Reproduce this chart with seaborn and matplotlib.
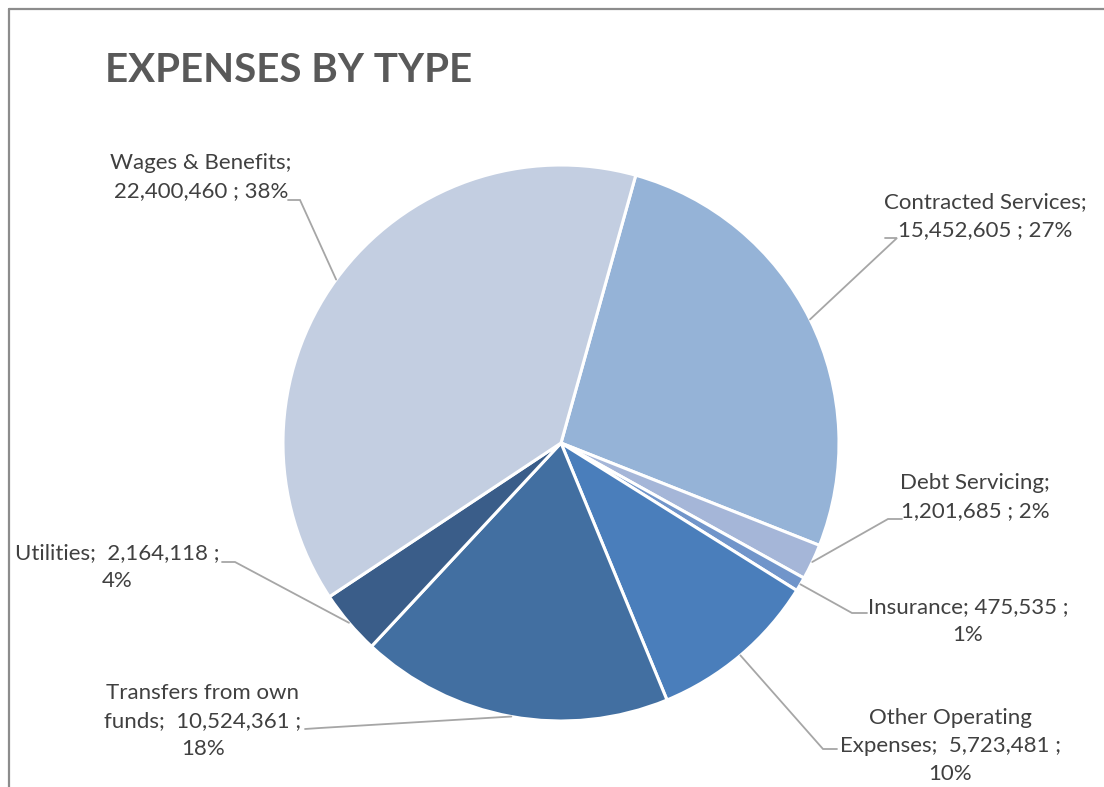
import numpy as np
import matplotlib
matplotlib.use("Agg")
import matplotlib.pyplot as plt
from matplotlib.lines import Line2D
import seaborn as sns

# Expense categories, clockwise from the top of the pie
categories = ["Contracted Services", "Debt Servicing", "Insurance",
              "Other Operating Expenses", "Transfers from own funds",
              "Utilities", "Wages & Benefits"]
amounts = [15452605, 1201685, 475535, 5723481, 10524361, 2164118, 22400460]
percent_labels = ["27%", "2%", "1%", "10%", "18%", "4%", "38%"]
label_texts = [
    "Contracted Services;\n15,452,605 ; 27%",
    "Debt Servicing;\n1,201,685 ; 2%",
    "Insurance; 475,535 ;\n1%",
    "Other Operating\nExpenses;  5,723,481 ;\n10%",
    "Transfers from own\nfunds;  10,524,361 ;\n18%",
    "Utilities;  2,164,118 ;\n4%",
    "Wages & Benefits;\n22,400,460 ; 38%",
]
slice_colors = ["#95B3D7", "#A5B6D8", "#7195CA", "#4A7EBB",
                "#426FA1", "#3A5D89", "#C3CEE1"]

sns.set_theme(style="white")
plt.rcParams["font.family"] = ["Lato", "DejaVu Sans"]

W, H = 1104, 787
fig = plt.figure(figsize=(W / 100, H / 100), dpi=100)
fig.patch.set_facecolor("white")

# pie geometry in pixels
cx, cy, R = 561, 443, 278
ax = fig.add_axes([(cx - R) / W, (H - cy - R) / H, 2 * R / W, 2 * R / H])

wedges, _ = ax.pie(amounts, colors=slice_colors, startangle=74.4,
                   counterclock=False, radius=1,
                   wedgeprops=dict(edgecolor="white", linewidth=2.2))
ax.set_xlim(-1, 1)
ax.set_ylim(-1, 1)
ax.set_aspect("equal")
ax.axis("off")


def px(x, y):
    """pixel position -> pie data coordinates"""
    return (x - cx) / R, (cy - y) / R


# label layout: text centre, elbow point, end of short horizontal stub (pixels)
text_pos = [(985, 216), (975, 497), (968, 621), (950, 746),
            (203, 721), (117, 567), (201, 177)]
elbow_pos = [(897, 238), (888, 519), (852, 613), (823, 749),
             (320, 728), (235, 562), (300, 200)]
stub_end = [(885, 238), (902, 519), (867, 613), (837, 749),
            (305, 729), (222, 562), (288, 200)]

line_color = "#A6A6A6"
for w, t, tp, ep, sp in zip(wedges, label_texts, text_pos, elbow_pos, stub_end):
    mid = np.deg2rad((w.theta1 + w.theta2) / 2)
    edge = (np.cos(mid), np.sin(mid))
    ex, ey = px(*ep)
    sx, sy = px(*sp)
    ax.add_line(Line2D([edge[0], ex, sx], [edge[1], ey, sy], color=line_color,
                       lw=1.3, clip_on=False, solid_joinstyle="miter"))
    tx, ty = px(*tp)
    ax.text(tx, ty, t, ha="center", va="center", multialignment="center",
            fontsize=16, color="#404040", linespacing=1.48, clip_on=False)

fig.text(105 / W, 1 - 70 / H, "EXPENSES BY TYPE", ha="left", va="center",
         fontsize=29, fontweight="bold", color="#595959")

# chart frame (top and left edges visible)
border = "#8C8C8C"
fig.add_artist(Line2D([9 / W, 1], [1 - 9 / H, 1 - 9 / H], color=border, lw=1.6,
                      transform=fig.transFigure))
fig.add_artist(Line2D([9 / W, 9 / W], [0, 1 - 9 / H], color=border, lw=1.6,
                      transform=fig.transFigure))

fig.savefig("out.png", dpi=100, facecolor="white")
